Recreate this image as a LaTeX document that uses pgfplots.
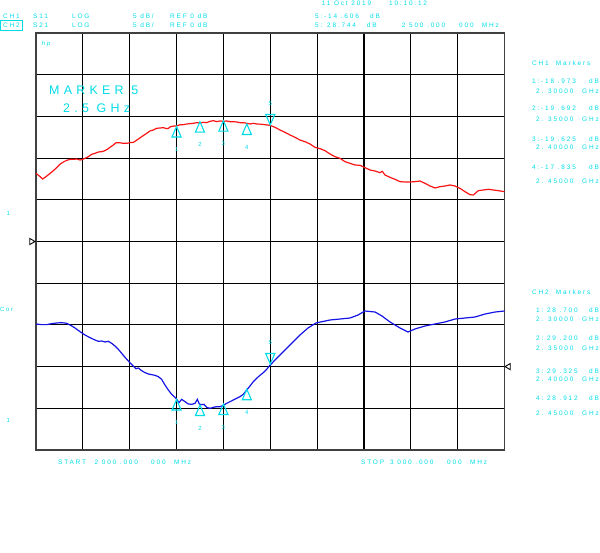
\documentclass[border=0pt]{standalone}
\usepackage{fontspec}
\setmainfont{Liberation Sans}
\newfontfamily\hpsmall[LetterSpace=28]{Liberation Sans}
\newfontfamily\hpbig[LetterSpace=34]{Liberation Sans}
\usepackage{pgfplots}
\pgfplotsset{compat=1.18}
\definecolor{hpcyan}{RGB}{0,220,232}
\definecolor{trred}{RGB}{250,20,20}
\definecolor{trblue}{RGB}{20,20,230}
\newcommand\sm{\hpsmall\fontsize{6.5}{7.5}\selectfont}
\newcommand\bg{\hpbig\fontsize{12.5}{14}\selectfont}
\newcommand\mk{\hpsmall\fontsize{6}{7}\selectfont}

\begin{document}
\begin{tikzpicture}
\useasboundingbox (-36bp,-103bp) rectangle (564bp,450bp);
\begin{axis}[
  at={(0,0)}, anchor=south west,
  scale only axis, width=468.5bp, height=417bp,
  xmin=2, xmax=3, ymin=0, ymax=10,
  xtick={2,2.1,2.2,2.3,2.4,2.5,2.6,2.7,2.8,2.9,3},
  ytick={0,1,2,3,4,5,6,7,8,9,10},
  xticklabels={}, yticklabels={},
  major tick length=0pt,
  grid=major,
  major grid style={black, line width=1.1bp},
  axis line style={black!75, line width=1.4bp},
  clip=false,
]
% CH1 S11 trace (red), x in GHz, y in divisions
\addplot[trred, line width=1.2bp, mark=none] coordinates {
(2.0000,6.635)(2.0071,6.571)(2.0142,6.499)(2.0213,6.555)(2.0285,6.619)(2.0370,6.699)
(2.0441,6.771)(2.0512,6.851)(2.0583,6.906)(2.0655,6.946)(2.0726,6.970)(2.0797,6.970)
(2.0868,6.978)(2.0939,6.954)(2.0996,6.970)(2.1046,6.995)(2.1117,7.034)(2.1188,7.090)
(2.1259,7.114)(2.1330,7.146)(2.1402,7.154)(2.1451,7.170)(2.1523,7.210)(2.1580,7.258)
(2.1651,7.314)(2.1708,7.370)(2.1779,7.370)(2.1864,7.354)(2.1935,7.354)(2.2006,7.370)
(2.2078,7.378)(2.2134,7.418)(2.2206,7.474)(2.2277,7.530)(2.2362,7.594)(2.2433,7.650)
(2.2504,7.674)(2.2576,7.714)(2.2647,7.722)(2.2718,7.730)(2.2789,7.706)(2.2825,7.714)
(2.2874,7.754)(2.2946,7.770)(2.3003,7.770)(2.3074,7.802)(2.3145,7.802)(2.3216,7.818)
(2.3287,7.826)(2.3358,7.834)(2.3429,7.850)(2.3501,7.842)(2.3572,7.858)(2.3643,7.850)
(2.3714,7.882)(2.3785,7.898)(2.3856,7.874)(2.3927,7.890)(2.3999,7.882)(2.4070,7.890)
(2.4141,7.874)(2.4212,7.874)(2.4283,7.866)(2.4354,7.850)(2.4425,7.850)(2.4497,7.834)
(2.4568,7.818)(2.4639,7.834)(2.4710,7.818)(2.4781,7.814)(2.4852,7.806)(2.4995,7.786)
(2.5101,7.738)(2.5208,7.674)(2.5315,7.618)(2.5422,7.554)(2.5528,7.498)(2.5635,7.434)
(2.5742,7.394)(2.5848,7.338)(2.5955,7.258)(2.6062,7.226)(2.6169,7.178)(2.6275,7.098)
(2.6382,7.034)(2.6489,6.995)(2.6596,6.914)(2.6702,6.875)(2.6809,6.835)(2.6916,6.827)
(2.7023,6.771)(2.7129,6.715)(2.7236,6.691)(2.7343,6.651)(2.7392,6.683)(2.7449,6.595)
(2.7556,6.539)(2.7663,6.491)(2.7770,6.435)(2.7876,6.427)(2.7983,6.427)(2.8090,6.435)
(2.8196,6.451)(2.8303,6.395)(2.8410,6.331)(2.8517,6.283)(2.8623,6.315)(2.8730,6.331)
(2.8837,6.355)(2.8943,6.331)(2.9050,6.275)(2.9157,6.195)(2.9264,6.123)(2.9335,6.115)
(2.9441,6.219)(2.9548,6.235)(2.9655,6.251)(2.9762,6.235)(2.9868,6.219)(3.0000,6.195)
};
% CH2 S21 trace (blue)
\addplot[trblue, line width=1.2bp, mark=none] coordinates {
(2.0000,3.022)(2.0121,3.006)(2.0228,3.006)(2.0334,3.030)(2.0441,3.046)(2.0548,3.054)
(2.0655,3.038)(2.0740,2.990)(2.0832,2.926)(2.0939,2.838)(2.1046,2.758)(2.1153,2.694)
(2.1259,2.638)(2.1330,2.606)(2.1402,2.614)(2.1473,2.590)(2.1544,2.606)(2.1615,2.558)
(2.1686,2.494)(2.1757,2.414)(2.1829,2.318)(2.1900,2.222)(2.1992,2.110)(2.2078,2.014)
(2.2134,1.950)(2.2184,1.966)(2.2255,1.902)(2.2327,1.855)(2.2398,1.823)(2.2469,1.807)
(2.2540,1.791)(2.2611,1.759)(2.2682,1.695)(2.2753,1.559)(2.2825,1.439)(2.2896,1.335)
(2.2967,1.263)(2.3003,1.215)(2.3052,1.135)(2.3109,1.215)(2.3180,1.159)(2.3252,1.103)
(2.3323,1.095)(2.3394,1.119)(2.3444,1.215)(2.3486,1.103)(2.3536,1.087)(2.3586,1.095)
(2.3643,1.023)(2.3714,0.999)(2.3785,1.023)(2.3856,1.039)(2.3927,1.039)(2.3999,1.071)
(2.4070,1.119)(2.4141,1.159)(2.4212,1.199)(2.4283,1.239)(2.4354,1.279)(2.4425,1.335)
(2.4497,1.439)(2.4568,1.535)(2.4639,1.639)(2.4710,1.719)(2.4781,1.791)(2.4852,1.855)
(2.4923,1.934)(2.4980,2.014)(2.5101,2.158)(2.5208,2.278)(2.5422,2.518)(2.5635,2.758)
(2.5806,2.926)(2.5977,3.046)(2.6275,3.118)(2.6489,3.141)(2.6702,3.165)(2.6873,3.237)
(2.7022,3.333)(2.7236,3.309)(2.7385,3.213)(2.7556,3.070)(2.7770,2.926)(2.7940,2.830)
(2.8090,2.902)(2.8303,2.974)(2.8516,3.022)(2.8730,3.070)(2.8943,3.141)(2.9157,3.165)
(2.9370,3.189)(2.9584,3.261)(2.9797,3.309)(3.0000,3.333)
};
% CH1 markers 1-4
\addplot[hpcyan, line width=1.1bp, only marks, mark=triangle, mark size=7bp,
  mark options={solid, yshift=-7bp, xscale=0.75},
  point meta=explicit symbolic, nodes near coords,
  nodes near coords align={anchor=center},
  every node near coord/.append style={font=\mk, text=hpcyan, inner sep=0pt, yshift=-16bp}]
  table[meta=lab] {
x y lab
2.30 7.758 1
2.35 7.873 2
2.40 7.897 3
2.45 7.818 4
};
% CH1 marker 5
\addplot[hpcyan, line width=1.1bp, only marks, mark=triangle, mark size=7bp,
  mark options={solid, yshift=7bp, rotate=180, xscale=0.75},
  point meta=explicit symbolic, nodes near coords,
  nodes near coords align={anchor=center},
  every node near coord/.append style={font=\mk, text=hpcyan, inner sep=0pt, yshift=15bp}]
  table[meta=lab] {
x y lab
2.50 7.794 5
};
% CH2 markers 1-4
\addplot[hpcyan, line width=1.1bp, only marks, mark=triangle, mark size=7bp,
  mark options={solid, yshift=-7bp, xscale=0.75},
  point meta=explicit symbolic, nodes near coords,
  nodes near coords align={anchor=center},
  every node near coord/.append style={font=\mk, text=hpcyan, inner sep=0pt, yshift=-16bp}]
  table[meta=lab] {
x y lab
2.30 1.211 1
2.35 1.079 2
2.40 1.103 3
2.45 1.456 4
};
% CH2 marker 5
\addplot[hpcyan, line width=1.1bp, only marks, mark=triangle, mark size=7bp,
  mark options={solid, yshift=7bp, rotate=180, xscale=0.75},
  point meta=explicit symbolic, nodes near coords,
  nodes near coords align={anchor=center},
  every node near coord/.append style={font=\mk, text=hpcyan, inner sep=0pt, yshift=15bp}]
  table[meta=lab] {
x y lab
2.50 2.062 5
};
% reference level arrows
\addplot[black, line width=0.9bp, only marks, mark=triangle, mark size=3.5bp,
  mark options={solid, rotate=-90, fill=white}] coordinates {(1.9904,5)};
\addplot[black, line width=0.9bp, only marks, mark=triangle, mark size=3.5bp,
  mark options={solid, rotate=90, fill=white}] coordinates {(3.0085,2)};
\end{axis}

\begin{scope}[x=1bp, y=-1bp, shift={(-36bp,450bp)},
  every node/.style={anchor=west, inner sep=0pt, text=hpcyan, font=\sm}]
% header
\node at (3,16) {CH1};
\node at (33,16) {S11};
\node at (72,16) {LOG};
\node at (133,16) {5 dB/};
\node at (170,16) {REF 0 dB};
\draw[hpcyan, line width=0.8bp] (0.8,20.7) rectangle (22.3,30.5);
\node at (3,25.5) {CH2};
\node at (33,25.5) {S21};
\node at (72,25.5) {LOG};
\node at (133,25.5) {5 dB/};
\node at (170,25.5) {REF 0 dB};
\node at (321.7,3) {11 Oct 2019};
\node at (389,3) {10:10:12};
\node at (315,16) {5:-14 .606};
\node at (370,16) {dB};
\node at (315,25.5) {5: 28.744};
\node at (366.7,25.5) {dB};
\node at (401.7,25.5) {2 500 .000};
\node at (459,25.5) {000};
\node at (481.7,25.5) {MHz};
% in-grid text
\node[font=\mk\itshape] at (41.7,44) {hp};
\node[font=\bg] at (49,90) {MARKER 5};
\node[font=\bg] at (63,108) {2.5 GHz};
% left side
\node[font=\mk] at (6.5,213) {1};
\node[font=\mk] at (6.5,420) {1};
\node[font=\mk] at (0,309) {Cor};
% CH1 markers panel
\node at (532,63) {CH1\ \ Markers};
\node at (532,81) {1:-18 .973}; \node at (589,81) {dB};
\node at (536,91) {2. 30000};   \node at (582,91) {GHz};
\node at (532,108) {2:-19 .692}; \node at (589,108) {dB};
\node at (536,119) {2. 35000};   \node at (582,119) {GHz};
\node at (532,139) {3:-19 .625}; \node at (589,139) {dB};
\node at (536,147) {2. 40000};   \node at (582,147) {GHz};
\node at (532,167) {4:-17 .835}; \node at (589,167) {dB};
\node at (536,181) {2. 45000};   \node at (582,181) {GHz};
% CH2 markers panel
\node at (532,292) {CH2\ \ Markers};
\node at (536,310) {1:\ 28 .700}; \node at (589,310) {dB};
\node at (536,319) {2. 30000};    \node at (582,319) {GHz};
\node at (536,338) {2:\ 29 .200}; \node at (589,338) {dB};
\node at (536,348) {2. 35000};    \node at (582,348) {GHz};
\node at (536,371) {3:\ 29 .325}; \node at (589,371) {dB};
\node at (536,379) {2. 40000};    \node at (582,379) {GHz};
\node at (536,398) {4:\ 28 .912}; \node at (589,398) {dB};
\node at (536,413) {2. 45000};    \node at (582,413) {GHz};
% footer
\node at (58,462) {START};
\node at (94.5,462) {2 000 .000};
\node at (151,462) {000};
\node at (174,462) {MHz};
\node at (361,462) {STOP};
\node at (390,462) {3 000 .000};
\node at (447,462) {000};
\node at (470,462) {MHz};
\end{scope}
\end{tikzpicture}
\end{document}
